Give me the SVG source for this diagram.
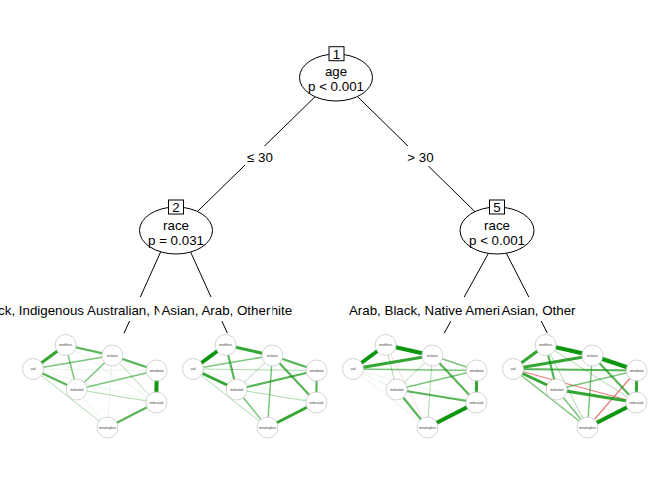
<svg xmlns="http://www.w3.org/2000/svg" width="672" height="480" viewBox="0 0 672 480">
<defs>
<style>
text{font-family:"Liberation Sans",Arial,sans-serif;fill:#000}
.t{font-size:13.33px;text-anchor:middle}
.ln{stroke:#000;stroke-width:1;fill:none}
.nd{fill:#fff;stroke:#000;stroke-width:1}
.bx{fill:#fff;stroke:#000;stroke-width:1}
.wb{fill:#fff;stroke:none}
.e{stroke:#0f960f;fill:none;stroke-linecap:round}
.e1{stroke-width:0.8;stroke-opacity:0.12}
.e2{stroke-width:1;stroke-opacity:0.35}
.e3{stroke-width:1.5;stroke-opacity:0.55}
.e4{stroke-width:2.2;stroke-opacity:0.7}
.e5{stroke-width:3;stroke-opacity:0.85}
.e6{stroke-width:4;stroke-opacity:1}
.r{stroke:#d9534f;stroke-width:1.2;stroke-opacity:0.75;fill:none}
.rf{stroke:#d9534f;stroke-width:0.8;stroke-opacity:0.25;fill:none}
.vc{fill:#fff;stroke:#c8c8c8;stroke-width:0.8}
.vl{font-size:3px;text-anchor:middle;fill:#333}
</style>
</defs>

<g id="connectors">
<line class="ln" x1="315" y1="96.8" x2="196.7" y2="212.2"/>
<line class="ln" x1="357.7" y1="96.8" x2="475" y2="211.7"/>
<line class="ln" x1="160.6" y1="252" x2="124" y2="333.3"/>
<line class="ln" x1="190.6" y1="252" x2="227.3" y2="333"/>
<line class="ln" x1="488.4" y1="253.3" x2="444.3" y2="333"/>
<line class="ln" x1="506.3" y1="253.2" x2="547.3" y2="333"/>
<g id="edge-labels">
<rect class="wb" x="245" y="146" width="31" height="20"/>
<text class="t" x="260" y="161.5">≤ 30</text>
<rect class="wb" x="405" y="146" width="31" height="20"/>
<text class="t" x="420.5" y="161.5">&gt; 30</text>
<rect class="wb" x="-24" y="297" width="318" height="24"/>
<text class="t" x="135.5" y="315">Black, Indigenous Australian, Native American, White</text>
<rect class="wb" x="159.5" y="297" width="113" height="24"/>
<text class="t" x="215.9" y="315">Asian, Arab, Other</text>
<rect class="wb" x="347" y="297" width="218" height="24"/>
<text class="t" x="456" y="315">Arab, Black, Native American, White</text>
<rect class="wb" x="500" y="297" width="77" height="24"/>
<text class="t" x="538.5" y="315">Asian, Other</text>
</g>
</g>

<g id="node1">
<ellipse class="nd" cx="336" cy="77.5" rx="36.5" ry="23.5"/>
<rect class="bx" x="329" y="46.7" width="15" height="14"/>
<text class="t" x="336.5" y="58.5">1</text>
<text class="t" x="336" y="76">age</text>
<text class="t" x="336" y="91">p &lt; 0.001</text>
</g>
<g id="node2">
<ellipse class="nd" cx="176" cy="230.5" rx="36.5" ry="23.5"/>
<rect class="bx" x="168.5" y="200" width="15" height="14"/>
<text class="t" x="176" y="211.8">2</text>
<text class="t" x="176" y="229.5">race</text>
<text class="t" x="176" y="244.5">p = 0.031</text>
</g>
<g id="node5">
<ellipse class="nd" cx="497" cy="230.5" rx="37" ry="23.5"/>
<rect class="bx" x="489.5" y="200" width="15" height="14"/>
<text class="t" x="497" y="211.8">5</text>
<text class="t" x="497" y="229.5">race</text>
<text class="t" x="497" y="244.5">p &lt; 0.001</text>
</g>

<g id="node3">
<g>
<line class="e e1" x1="33" y1="369" x2="156.7" y2="370.5"/>
<line class="e e1" x1="65.7" y1="345" x2="156.7" y2="370.5"/>
<line class="e e1" x1="107.5" y1="427.5" x2="76.7" y2="389.5"/>
<line class="e e1" x1="33" y1="369" x2="156.3" y2="402.5"/>
<line class="e e1" x1="65.7" y1="345" x2="156.3" y2="402.5"/>
<line class="e e1" x1="112.3" y1="355.5" x2="107.5" y2="427.5"/>
<line class="e e2" x1="33" y1="369" x2="107.5" y2="427.5"/>
<line class="e e2" x1="112.3" y1="355.5" x2="156.3" y2="402.5"/>
<line class="e e2" x1="76.7" y1="389.5" x2="156.3" y2="402.5"/>
<line class="e e3" x1="33" y1="369" x2="112.3" y2="355.5"/>
<line class="e e3" x1="65.7" y1="345" x2="76.7" y2="389.5"/>
<line class="e e3" x1="112.3" y1="355.5" x2="76.7" y2="389.5"/>
<line class="e e3" x1="76.7" y1="389.5" x2="156.7" y2="370.5"/>
<line class="e e4" x1="65.7" y1="345" x2="112.3" y2="355.5"/>
<line class="e e4" x1="33" y1="369" x2="76.7" y2="389.5"/>
<line class="e e4" x1="112.3" y1="355.5" x2="156.7" y2="370.5"/>
<line class="e e4" x1="107.5" y1="427.5" x2="156.3" y2="402.5"/>
<line class="e e5" x1="33" y1="369" x2="65.7" y2="345"/>
<line class="e e6" x1="156.7" y1="370.5" x2="156.3" y2="402.5"/>
</g>
<g>
<circle class="vc" cx="33" cy="369" r="10.5"/><text class="vl" x="33" y="370">sad</text>
<circle class="vc" cx="65.7" cy="345" r="10.5"/><text class="vl" x="65.7" y="346">worthless</text>
<circle class="vc" cx="112.3" cy="355.5" r="10.5"/><text class="vl" x="112.3" y="356.5">initiative</text>
<circle class="vc" cx="156.7" cy="370.5" r="10.5"/><text class="vl" x="156.7" y="371.5">anhedonia</text>
<circle class="vc" cx="76.7" cy="389.5" r="10.5"/><text class="vl" x="76.7" y="390.5">motivated</text>
<circle class="vc" cx="156.3" cy="402.5" r="10.5"/><text class="vl" x="156.3" y="403.5">unfocused</text>
<circle class="vc" cx="107.5" cy="427.5" r="10.5"/><text class="vl" x="107.5" y="428.5">meaningless</text>
</g>
</g>

<g id="node4" transform="translate(160,0)">
<g>
<line class="e e1" x1="65.7" y1="345" x2="156.7" y2="370.5"/>
<line class="e e1" x1="33" y1="369" x2="156.3" y2="402.5"/>
<line class="e e2" x1="33" y1="369" x2="156.7" y2="370.5"/>
<line class="e e2" x1="33" y1="369" x2="107.5" y2="427.5"/>
<line class="e e2" x1="112.3" y1="355.5" x2="76.7" y2="389.5"/>
<line class="e e2" x1="76.7" y1="389.5" x2="156.3" y2="402.5"/>
<line class="e e3" x1="33" y1="369" x2="112.3" y2="355.5"/>
<line class="e e3" x1="76.7" y1="389.5" x2="107.5" y2="427.5"/>
<line class="e e3" x1="112.3" y1="355.5" x2="107.5" y2="427.5"/>
<line class="e e4" x1="65.7" y1="345" x2="76.7" y2="389.5"/>
<line class="e e4" x1="112.3" y1="355.5" x2="156.7" y2="370.5"/>
<line class="e e4" x1="112.3" y1="355.5" x2="156.3" y2="402.5"/>
<line class="e e4" x1="156.7" y1="370.5" x2="156.3" y2="402.5"/>
<line class="e e4" x1="76.7" y1="389.5" x2="156.7" y2="370.5"/>
<line class="e e5" x1="65.7" y1="345" x2="112.3" y2="355.5"/>
<line class="e e5" x1="33" y1="369" x2="76.7" y2="389.5"/>
<line class="e e5" x1="107.5" y1="427.5" x2="156.3" y2="402.5"/>
<line class="e e6" x1="33" y1="369" x2="65.7" y2="345"/>
</g>
<g>
<circle class="vc" cx="33" cy="369" r="10.5"/><text class="vl" x="33" y="370">sad</text>
<circle class="vc" cx="65.7" cy="345" r="10.5"/><text class="vl" x="65.7" y="346">worthless</text>
<circle class="vc" cx="112.3" cy="355.5" r="10.5"/><text class="vl" x="112.3" y="356.5">initiative</text>
<circle class="vc" cx="156.7" cy="370.5" r="10.5"/><text class="vl" x="156.7" y="371.5">anhedonia</text>
<circle class="vc" cx="76.7" cy="389.5" r="10.5"/><text class="vl" x="76.7" y="390.5">motivated</text>
<circle class="vc" cx="156.3" cy="402.5" r="10.5"/><text class="vl" x="156.3" y="403.5">unfocused</text>
<circle class="vc" cx="107.5" cy="427.5" r="10.5"/><text class="vl" x="107.5" y="428.5">meaningless</text>
</g>
</g>

<g id="node6" transform="translate(320,0)">
<g>
<line class="rf" x1="65.7" y1="345" x2="107.5" y2="427.5"/>
<line class="e e1" x1="33" y1="369" x2="107.5" y2="427.5"/>
<line class="e e1" x1="33" y1="369" x2="76.7" y2="389.5"/>
<line class="e e1" x1="33" y1="369" x2="156.3" y2="402.5"/>
<line class="e e2" x1="65.7" y1="345" x2="76.7" y2="389.5"/>
<line class="e e2" x1="112.3" y1="355.5" x2="76.7" y2="389.5"/>
<line class="e e2" x1="112.3" y1="355.5" x2="107.5" y2="427.5"/>
<line class="e e3" x1="33" y1="369" x2="156.7" y2="370.5"/>
<line class="e e3" x1="112.3" y1="355.5" x2="156.7" y2="370.5"/>
<line class="e e3" x1="76.7" y1="389.5" x2="156.7" y2="370.5"/>
<line class="e e4" x1="112.3" y1="355.5" x2="156.3" y2="402.5"/>
<line class="e e4" x1="76.7" y1="389.5" x2="156.3" y2="402.5"/>
<line class="e e4" x1="76.7" y1="389.5" x2="107.5" y2="427.5"/>
<line class="e e5" x1="33" y1="369" x2="112.3" y2="355.5"/>
<line class="e e5" x1="156.7" y1="370.5" x2="156.3" y2="402.5"/>
<line class="e e6" x1="33" y1="369" x2="65.7" y2="345"/>
<line class="e e6" x1="65.7" y1="345" x2="112.3" y2="355.5"/>
<line class="e e6" x1="107.5" y1="427.5" x2="156.3" y2="402.5"/>
</g>
<g>
<circle class="vc" cx="33" cy="369" r="10.5"/><text class="vl" x="33" y="370">sad</text>
<circle class="vc" cx="65.7" cy="345" r="10.5"/><text class="vl" x="65.7" y="346">worthless</text>
<circle class="vc" cx="112.3" cy="355.5" r="10.5"/><text class="vl" x="112.3" y="356.5">initiative</text>
<circle class="vc" cx="156.7" cy="370.5" r="10.5"/><text class="vl" x="156.7" y="371.5">anhedonia</text>
<circle class="vc" cx="76.7" cy="389.5" r="10.5"/><text class="vl" x="76.7" y="390.5">motivated</text>
<circle class="vc" cx="156.3" cy="402.5" r="10.5"/><text class="vl" x="156.3" y="403.5">unfocused</text>
<circle class="vc" cx="107.5" cy="427.5" r="10.5"/><text class="vl" x="107.5" y="428.5">meaningless</text>
</g>
</g>

<g id="node7" transform="translate(480,0)">
<g>
<line class="e e2" x1="65.7" y1="345" x2="156.3" y2="402.5"/>
<line class="e e2" x1="65.7" y1="345" x2="107.5" y2="427.5"/>
<line class="e e2" x1="65.7" y1="345" x2="156.7" y2="370.5"/>
<line class="r" x1="33" y1="369" x2="156.3" y2="402.5"/>
<line class="r" x1="156.7" y1="370.5" x2="107.5" y2="427.5"/>
<line class="e e3" x1="33" y1="369" x2="107.5" y2="427.5"/>
<line class="e e3" x1="76.7" y1="389.5" x2="107.5" y2="427.5"/>
<line class="e e3" x1="76.7" y1="389.5" x2="156.7" y2="370.5"/>
<line class="e e3" x1="112.3" y1="355.5" x2="107.5" y2="427.5"/>
<line class="e e4" x1="33" y1="369" x2="156.7" y2="370.5"/>
<line class="e e4" x1="65.7" y1="345" x2="76.7" y2="389.5"/>
<line class="e e4" x1="112.3" y1="355.5" x2="156.3" y2="402.5"/>
<line class="e e5" x1="33" y1="369" x2="65.7" y2="345"/>
<line class="e e5" x1="33" y1="369" x2="112.3" y2="355.5"/>
<line class="e e5" x1="33" y1="369" x2="76.7" y2="389.5"/>
<line class="e e5" x1="76.7" y1="389.5" x2="156.3" y2="402.5"/>
<line class="e e5" x1="156.7" y1="370.5" x2="156.3" y2="402.5"/>
<line class="e e6" x1="65.7" y1="345" x2="112.3" y2="355.5"/>
<line class="e e6" x1="112.3" y1="355.5" x2="156.7" y2="370.5"/>
<line class="e e6" x1="107.5" y1="427.5" x2="156.3" y2="402.5"/>
</g>
<g>
<circle class="vc" cx="33" cy="369" r="10.5"/><text class="vl" x="33" y="370">sad</text>
<circle class="vc" cx="65.7" cy="345" r="10.5"/><text class="vl" x="65.7" y="346">worthless</text>
<circle class="vc" cx="112.3" cy="355.5" r="10.5"/><text class="vl" x="112.3" y="356.5">initiative</text>
<circle class="vc" cx="156.7" cy="370.5" r="10.5"/><text class="vl" x="156.7" y="371.5">anhedonia</text>
<circle class="vc" cx="76.7" cy="389.5" r="10.5"/><text class="vl" x="76.7" y="390.5">motivated</text>
<circle class="vc" cx="156.3" cy="402.5" r="10.5"/><text class="vl" x="156.3" y="403.5">unfocused</text>
<circle class="vc" cx="107.5" cy="427.5" r="10.5"/><text class="vl" x="107.5" y="428.5">meaningless</text>
</g>
</g>
</svg>
